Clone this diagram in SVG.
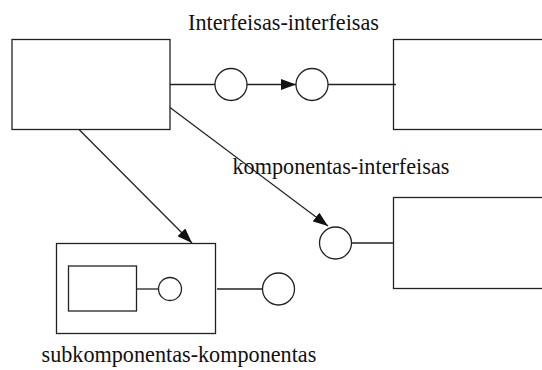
<svg xmlns="http://www.w3.org/2000/svg" width="542" height="370" viewBox="0 0 542 370">
  <style>
    .box { fill: #ffffff; stroke: #222222; stroke-width: 1.3; }
    .port { fill: #ffffff; stroke: #222222; stroke-width: 1.3; }
    .link { fill: none; stroke: #222222; stroke-width: 1.3; }
    .label { font-family: "Liberation Serif", "Times New Roman", serif; font-size: 22.2px; fill: #111111; }
  </style>
  <defs>
    <marker id="arrow" markerUnits="userSpaceOnUse" markerWidth="16" markerHeight="12" refX="15" refY="5.5" orient="auto">
      <path d="M0,0 L15,5.5 L0,11 Z" fill="#111111"/>
    </marker>
  </defs>

  <rect width="542" height="370" fill="#ffffff"/>

  <!-- components -->
  <g id="component-a">
    <rect class="box" x="12" y="39.5" width="158" height="90"/>
  </g>
  <g id="component-b">
    <rect class="box" x="393.5" y="39.5" width="160" height="90"/>
  </g>
  <g id="component-c">
    <rect class="box" x="393.5" y="197.5" width="160" height="91"/>
  </g>
  <g id="component-d">
    <rect class="box" x="56.5" y="243.5" width="159" height="90"/>
  </g>
  <g id="subcomponent">
    <rect class="box" x="68.5" y="266" width="68" height="45"/>
  </g>

  <!-- connectors -->
  <g id="connectors">
    <line class="link" x1="170" y1="84.5" x2="215" y2="84.5"/>
    <line class="link" x1="247" y1="84.5" x2="296" y2="84.5" marker-end="url(#arrow)"/>
    <line class="link" x1="328" y1="84.5" x2="396" y2="84.5"/>
    <line class="link" x1="170" y1="107.5" x2="328" y2="226" marker-end="url(#arrow)"/>
    <line class="link" x1="351.5" y1="243" x2="393.5" y2="243"/>
    <line class="link" x1="79" y1="129.5" x2="192" y2="243" marker-end="url(#arrow)"/>
    <line class="link" x1="136.5" y1="289" x2="158.5" y2="289"/>
    <line class="link" x1="217" y1="289" x2="262.5" y2="289"/>
  </g>

  <!-- interfaces -->
  <g id="iface-a"><circle class="port" cx="231" cy="84.5" r="16"/></g>
  <g id="iface-b"><circle class="port" cx="312" cy="84.5" r="16"/></g>
  <g id="iface-c"><circle class="port" cx="335.5" cy="243" r="16"/></g>
  <g id="iface-sub"><circle class="port" cx="170" cy="289" r="11.5"/></g>
  <g id="iface-d"><circle class="port" cx="278.5" cy="289" r="16"/></g>

  <!-- labels -->
  <g id="labels">
    <text class="label" x="188" y="29.5">Interfeisas-interfeisas</text>
    <text class="label" x="232.5" y="174">komponentas-interfeisas</text>
    <text class="label" x="41.5" y="362">subkomponentas-komponentas</text>
  </g>
</svg>
